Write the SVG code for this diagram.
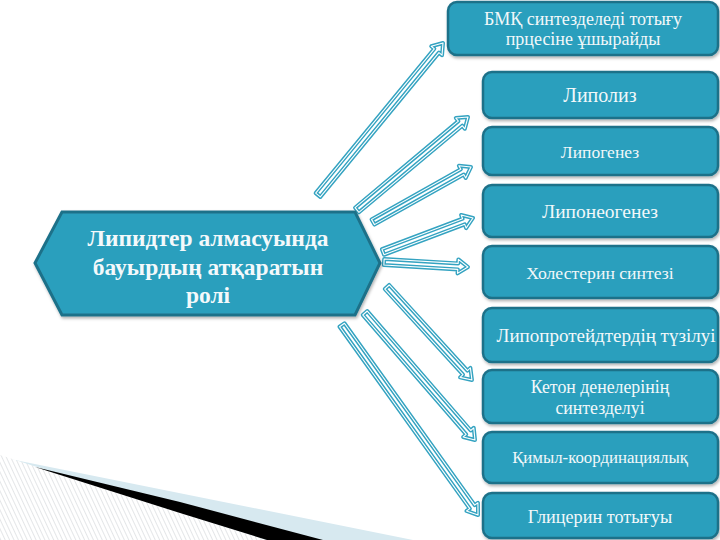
<svg xmlns="http://www.w3.org/2000/svg" width="720" height="540" viewBox="0 0 720 540">
<defs>
<pattern id="hatch" patternUnits="userSpaceOnUse" width="4" height="4" patternTransform="rotate(-25)">
<rect width="4" height="4" fill="#ffffff"/>
<line x1="0" y1="0" x2="0" y2="4" stroke="#c9cdd2" stroke-width="1"/>
</pattern>
<filter id="sh" x="-10%" y="-10%" width="120%" height="130%">
<feDropShadow dx="1" dy="2" stdDeviation="1.5" flood-color="#000" flood-opacity="0.3"/>
</filter>
</defs>
<style>
.box{fill:#2c9fbd;stroke:#1f7189;stroke-width:2.5}
.hex{fill:#2c9fbd;stroke:#1f7189;stroke-width:3}
.t{fill:#f2f8fa;text-anchor:middle}
.ht{fill:#f4f9fb;text-anchor:middle;font-weight:bold;font-size:23.5px}
.arr{fill:#ffffff;stroke:#34a3c1;stroke-width:4;stroke-linejoin:round}
.arri{fill:none;stroke:#ffffff;stroke-width:1.1;stroke-linejoin:round}
</style>
<rect width="720" height="540" fill="#ffffff"/>
<polygon points="0,457 413,540 0,540" fill="#d7e9f0"/>
<polygon points="0,455 40,468 267,540 0,540" fill="url(#hatch)"/>
<polygon points="35,467 180,502 323,540 267,540 180,513" fill="#000000"/>

<g id="connectors">
<g transform="translate(318,195) rotate(-50.57)"><path class="arr" d="M0,-3 H186.8 V-7 L196.8,0 L186.8,7 V3 H0 Z"/><path class="arri" d="M0,-3 H186.8 V-7 L196.8,0 L186.8,7 V3 H0 Z"/></g>
<g transform="translate(357,210) rotate(-39.96)"><path class="arr" d="M0,-3 H134.8 V-7 L144.8,0 L134.8,7 V3 H0 Z"/><path class="arri" d="M0,-3 H134.8 V-7 L144.8,0 L134.8,7 V3 H0 Z"/></g>
<g transform="translate(373,222) rotate(-29.3)"><path class="arr" d="M0,-3 H102.4 V-7 L112.4,0 L102.4,7 V3 H0 Z"/><path class="arri" d="M0,-3 H102.4 V-7 L112.4,0 L102.4,7 V3 H0 Z"/></g>
<g transform="translate(383,252) rotate(-20.7)"><path class="arr" d="M0,-3 H86.2 V-7 L96.2,0 L86.2,7 V3 H0 Z"/><path class="arri" d="M0,-3 H86.2 V-7 L96.2,0 L86.2,7 V3 H0 Z"/></g>
<g transform="translate(384,262) rotate(3.4)"><path class="arr" d="M0,-3 H74.1 V-7 L84.1,0 L74.1,7 V3 H0 Z"/><path class="arri" d="M0,-3 H74.1 V-7 L84.1,0 L74.1,7 V3 H0 Z"/></g>
<g transform="translate(387,287) rotate(47.6)"><path class="arr" d="M0,-3 H116 V-7 L126,0 L116,7 V3 H0 Z"/><path class="arri" d="M0,-3 H116 V-7 L126,0 L116,7 V3 H0 Z"/></g>
<g transform="translate(365,313) rotate(49.1)"><path class="arr" d="M0,-3 H158 V-7 L168,0 L158,7 V3 H0 Z"/><path class="arri" d="M0,-3 H158 V-7 L168,0 L158,7 V3 H0 Z"/></g>
<g transform="translate(342,325) rotate(54.4)"><path class="arr" d="M0,-3 H223.7 V-7 L233.7,0 L223.7,7 V3 H0 Z"/><path class="arri" d="M0,-3 H223.7 V-7 L233.7,0 L223.7,7 V3 H0 Z"/></g>
</g>

<g font-family="Liberation Serif, Times New Roman, serif">
<g id="center">
<polygon class="hex" filter="url(#sh)" points="62,212 355,212 380,263 355,315 62,315 35,263"/>
<text class="ht" x="208" y="246">Липидтер алмасуында</text>
<text class="ht" x="208" y="275">бауырдың атқаратын</text>
<text class="ht" x="208" y="303">ролі</text>
</g>

<g id="n1"><rect class="box" filter="url(#sh)" x="448" y="2" width="270" height="53" rx="9"/>
<text class="t" x="583" y="25" font-size="18">БМҚ синтезделеді тотығу</text>
<text class="t" x="583" y="45" font-size="18">прцесіне ұшырайды</text></g>
<g id="n2"><rect class="box" filter="url(#sh)" x="483" y="72" width="235" height="46" rx="9"/>
<text class="t" x="600" y="102" font-size="20">Липолиз</text></g>
<g id="n3"><rect class="box" filter="url(#sh)" x="483" y="127" width="235" height="48" rx="9"/>
<text class="t" x="600" y="158" font-size="17.5">Липогенез</text></g>
<g id="n4"><rect class="box" filter="url(#sh)" x="483" y="185" width="235" height="52" rx="9"/>
<text class="t" x="600" y="218" font-size="19.5">Липонеогенез</text></g>
<g id="n5"><rect class="box" filter="url(#sh)" x="483" y="246" width="235" height="52" rx="9"/>
<text class="t" x="600" y="279" font-size="17.7">Холестерин синтезі</text></g>
<g id="n6"><rect class="box" filter="url(#sh)" x="483" y="308" width="235" height="54" rx="9"/>
<text class="t" x="606" y="342" font-size="19">Липопротейдтердің түзілуі</text></g>
<g id="n7"><rect class="box" filter="url(#sh)" x="483" y="370" width="235" height="53" rx="9"/>
<text class="t" x="600" y="393" font-size="17.8">Кетон денелерінің</text>
<text class="t" x="600" y="414" font-size="17.8">синтезделуі</text></g>
<g id="n8"><rect class="box" filter="url(#sh)" x="483" y="432" width="235" height="51" rx="9"/>
<text class="t" x="600" y="463" font-size="16.8">Қимыл-координациялық</text></g>
<g id="n9"><rect class="box" filter="url(#sh)" x="483" y="493" width="235" height="45" rx="9"/>
<text class="t" x="600" y="523" font-size="18.2">Глицерин тотығуы</text></g>
</g>
</svg>
